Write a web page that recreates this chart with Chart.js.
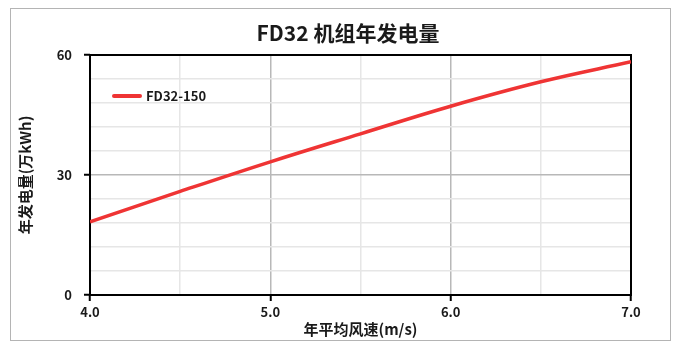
<!DOCTYPE html>
<html>
<head>
<meta charset="utf-8">
<script src="https://cdn.jsdelivr.net/npm/chart.js@4.4.1/dist/chart.umd.min.js"></script>
<style>
  html, body { margin: 0; padding: 0; background: #fff; }
  #wrap { position: relative; width: 681px; height: 348px; }
  #frame { position: absolute; left: 10px; top: 8px; width: 661px; height: 333px; border: 1px solid #b4b4b4; box-sizing: border-box; pointer-events: none; }
  canvas { position: absolute; left: 0; top: 0; }
</style>
</head>
<body>
<div id="wrap">
  <canvas id="chart" width="681" height="348"></canvas>
  <div id="frame"></div>
</div>
<script>
// values
var windSpeed = [4.0, 4.5, 5.0, 5.5, 6.0, 6.5, 7.0];
var energy150 = [18.3, 25.9, 33.3, 40.3, 47.2, 53.3, 58.3];
var seriesName = 'FD32-150';
var chartTitle = 'FD32 机组年发电量';
var xTickLabels = ['4.0', '5.0', '6.0', '7.0'];
var yTickLabels = [0, 30, 60];

var FONT = '"Noto Sans CJK SC", "Noto Sans", sans-serif';
var INK = '#1a1a1a';
var RED = '#ef3434';

var points = windSpeed.map(function(x, i) { return { x: x, y: energy150[i] }; });

// title, black box round the plot area, legend inside
var framePlugin = {
  id: 'framePlugin',
  beforeDatasetsDraw: function(chart) {
    var a = chart.chartArea, ctx = chart.ctx;
    ctx.save();
    ctx.strokeStyle = '#000';
    ctx.lineWidth = 2;
    ctx.strokeRect(a.left, a.top, a.right - a.left, a.bottom - a.top);
    ctx.fillStyle = INK;
    ctx.font = 'bold 21px ' + FONT;
    ctx.textAlign = 'center';
    ctx.textBaseline = 'middle';
    ctx.fillText(chartTitle, 348, 33);
    ctx.restore();
  },
  afterDatasetsDraw: function(chart) {
    var a = chart.chartArea, ctx = chart.ctx;
    var ds = chart.data.datasets[0];
    var y = a.top + 41;
    ctx.save();
    ctx.strokeStyle = ds.borderColor;
    ctx.lineWidth = 4;
    ctx.lineCap = 'round';
    ctx.beginPath();
    ctx.moveTo(a.left + 24, y);
    ctx.lineTo(a.left + 50, y);
    ctx.stroke();
    ctx.fillStyle = INK;
    ctx.font = 'bold 13px ' + FONT;
    ctx.textBaseline = 'middle';
    ctx.fillText(ds.label, a.left + 56, y);
    ctx.restore();
  }
};

new Chart(document.getElementById('chart'), {
  type: 'line',
  data: {
    datasets: [{
      label: seriesName,
      data: points,
      borderColor: RED,
      backgroundColor: RED,
      borderWidth: 3.5,
      pointRadius: 0,
      tension: 0.4,
      fill: false
    }]
  },
  options: {
    responsive: false,
    animation: false,
    layout: { padding: { left: 10, right: 50, top: 55, bottom: 0 } },
    plugins: {
      legend: { display: false },
      tooltip: { enabled: false },
      title: { display: false }
    },
    scales: {
      x: {
        type: 'linear',
        min: 4, max: 7,
        afterFit: function(s) { s.height = 53; },
        border: { display: false },
        grid: {
          color: function(c) { return Number.isInteger(c.tick.value) ? '#b8b8b8' : '#e6e6e6'; },
          lineWidth: 1.5,
          tickLength: 6,
          tickColor: function(c) { return Number.isInteger(c.tick.value) ? '#000' : 'rgba(0,0,0,0)'; },
          tickWidth: 2
        },
        ticks: {
          stepSize: 0.5,
          autoSkip: false,
          maxRotation: 0,
          padding: 3,
          color: INK,
          font: { family: FONT, size: 13, weight: 'bold' },
          callback: function(v) {
            var s = v.toFixed(1);
            return xTickLabels.indexOf(s) >= 0 ? s : '';
          }
        },
        title: {
          display: true,
          text: '年平均风速(m/s)',
          color: INK,
          font: { family: FONT, size: 15, weight: 'bold' },
          padding: { top: 0, bottom: 10 }
        }
      },
      y: {
        min: 0, max: 60,
        afterFit: function(s) { s.width = 80; },
        border: { display: false },
        grid: {
          color: function(c) { return c.tick.value % 30 === 0 ? '#b8b8b8' : '#e6e6e6'; },
          lineWidth: 1.5,
          tickLength: 6,
          tickColor: function(c) { return c.tick.value % 30 === 0 ? '#000' : 'rgba(0,0,0,0)'; },
          tickWidth: 2
        },
        ticks: {
          stepSize: 6,
          autoSkip: false,
          padding: 12,
          color: INK,
          font: { family: FONT, size: 13, weight: 'bold' },
          callback: function(v) { return yTickLabels.indexOf(v) >= 0 ? String(v) : ''; }
        },
        title: {
          display: true,
          text: '年发电量(万kWh)',
          color: INK,
          font: { family: FONT, size: 15, weight: 'bold' },
          padding: { top: 6, bottom: 0 }
        }
      }
    }
  },
  plugins: [framePlugin]
});
</script>
</body>
</html>
